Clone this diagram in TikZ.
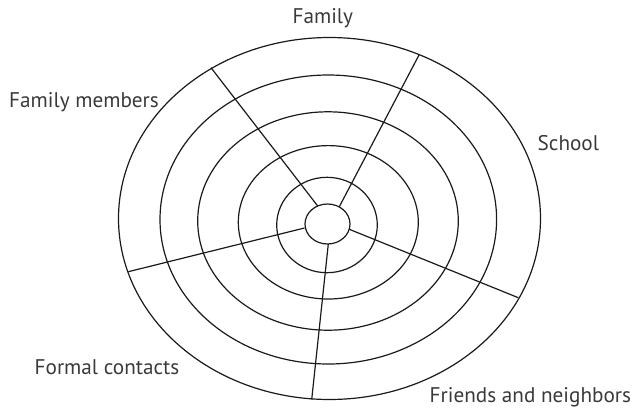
\documentclass[tikz,border=0pt]{standalone}
\usepackage{fontspec}
\setmainfont{PT Sans}
\definecolor{txt}{HTML}{3A3A3A}
\definecolor{ln}{HTML}{1A1A1A}
\begin{document}
\begin{tikzpicture}[x=1pt,y=-1pt,
  ring/.style={draw=ln,line width=1.2pt},
  spoke/.style={draw=ln,line width=1.2pt},
  lbl/.style={inner sep=0pt,text=txt,font=\fontsize{21.2}{25}\selectfont}]
\useasboundingbox (0,0) rectangle (632,408);
% rings
\draw[ring] (329.5,218.5) ellipse [x radius=211, y radius=181];
\draw[ring] (328.3,219.5) ellipse [x radius=168.3, y radius=144.5];
\draw[ring] (328,221) ellipse [x radius=130.3, y radius=109.2];
\draw[ring] (328.3,222.3) ellipse [x radius=90, y radius=76.7];
\draw[ring] (327,225) ellipse [x radius=50.3, y radius=47.7];
\draw[ring] (327.5,224) ellipse [x radius=22.5, y radius=20];
% spoke end points
\coordinate (a1) at (317.7,206);   \coordinate (b1) at (211,67.7);
\coordinate (a2) at (339.3,206.7); \coordinate (b2) at (419,55);
\coordinate (a3) at (349.3,229.3); \coordinate (b3) at (518.3,297.7);
\coordinate (a4) at (328.3,244);   \coordinate (b4) at (311.7,399.5);
\coordinate (a5) at (304.5,228);   \coordinate (b5) at (128.3,271.7);
\draw[spoke] (a1) -- (b1);
\draw[spoke] (a2) -- (b2);
\draw[spoke] (a3) -- (b3);
\draw[spoke] (a4) -- (b4);
\draw[spoke] (a5) -- (b5);
% labels
\node[lbl,anchor=base] (family) at (322.8,23) {Family};
\node[lbl,anchor=base west] (members) at (9,107.7) {Family members};
\node[lbl,anchor=base west] (school) at (537.5,150) {School};
\node[lbl,anchor=base west] (formal) at (34.5,374) {Formal contacts};
\node[lbl,anchor=base west] (friends) at (429.5,402.7) {Friends and neighbors};
\end{tikzpicture}
\end{document}
